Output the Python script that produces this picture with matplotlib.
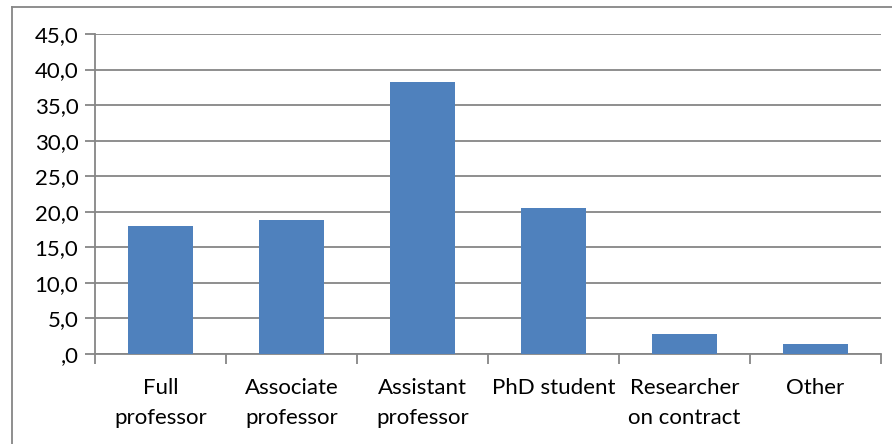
import matplotlib.pyplot as plt
import numpy as np
from matplotlib.lines import Line2D

plt.rcParams['font.family'] = ['Lato', 'DejaVu Sans']

categories = ["Full\nprofessor", "Associate\nprofessor", "Assistant\nprofessor",
              "PhD student", "Researcher\non contract", "Other"]
values = [18.0, 18.8, 38.3, 20.6, 2.8, 1.4]
y_ticks = [0, 5, 10, 15, 20, 25, 30, 35, 40, 45]


# excel style number format: 0 -> ",0", 5 -> "5,0"
def fmt(v):
    s = "%.1f" % v
    if s.startswith("0"):
        s = s[1:]
    return s.replace(".", ",")


def main():
    fig = plt.figure(figsize=(8.92, 4.44), dpi=100)
    ax = fig.add_axes([95 / 892, 1 - 354 / 444, (881 - 95) / 892, (354 - 34) / 444])

    grid_col = "#868686"
    x = np.arange(len(categories))
    ax.bar(x, values, width=0.5, color="#4F81BD", zorder=3)

    ax.set_xlim(-0.5, len(categories) - 0.5)
    ax.set_ylim(0, 45)
    ax.set_yticks(y_ticks)
    ax.set_yticklabels([fmt(v) for v in y_ticks], fontsize=16)
    ax.yaxis.grid(True, color=grid_col, linewidth=1.3, zorder=0)

    # category ticks sit between the bars
    ax.set_xticks(np.arange(len(categories) + 1) - 0.5)
    ax.set_xticklabels([])
    ax.set_xticks(x, minor=True)
    ax.set_xticklabels(categories, minor=True, fontsize=16, linespacing=1.65)
    ax.tick_params(axis="x", which="minor", length=0, pad=17)
    ax.tick_params(axis="x", which="major", length=7, color=grid_col, width=1.3)
    ax.tick_params(axis="y", length=7, color=grid_col, width=1.3, pad=5)

    for side in ["top", "right"]:
        ax.spines[side].set_visible(False)
    for side in ["left", "bottom"]:
        ax.spines[side].set_color(grid_col)
        ax.spines[side].set_linewidth(1.3)

    # outer chart frame (left and top edges visible)
    fig.add_artist(Line2D([12 / 892, 12 / 892], [0, 1 - 7 / 444], color=grid_col, linewidth=1.3))
    fig.add_artist(Line2D([12 / 892, 1], [1 - 7 / 444, 1 - 7 / 444], color=grid_col, linewidth=1.3))

    fig.savefig("out.png", dpi=100)


main()
